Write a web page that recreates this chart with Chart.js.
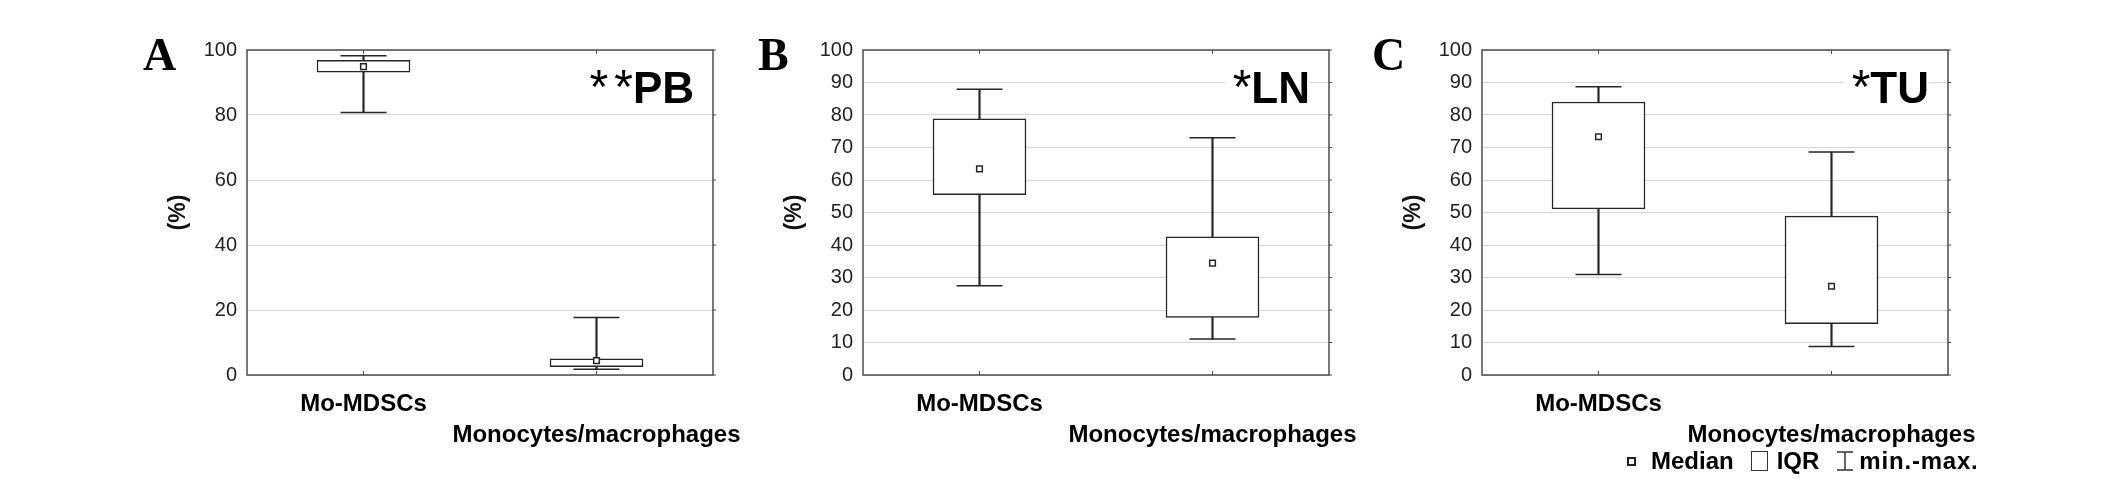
<!DOCTYPE html>
<html>
<head>
<meta charset="utf-8">
<script src="https://cdn.jsdelivr.net/npm/chart.js@4.4.1/dist/chart.umd.min.js"></script>
<style>
  html, body { margin:0; padding:0; background:#fff; width:2126px; height:501px; overflow:hidden; position:relative;
    font-family:'Liberation Sans', Arial, sans-serif; }
  canvas { position:absolute; }
  .letter { position:absolute; font-family:'Liberation Serif','Times New Roman',serif; font-weight:bold;
    font-size:46px; line-height:46px; color:#000; }
  .tag { position:absolute; font-weight:bold; font-size:44px; line-height:44px; background:#fff;
    padding-left:8px; color:#000; white-space:nowrap; z-index:2; }
  .tag .ast { font-weight:normal; font-size:48px; line-height:0; letter-spacing:6px; margin-right:-6px; }
  .legend { position:absolute; display:flex; align-items:center; font-weight:bold; font-size:24px;
    line-height:24px; color:#000; white-space:nowrap; z-index:2; }
  .lg-med { width:9px; height:9px; border:2px solid #222; box-sizing:border-box; margin-right:15px; }
  .lg-iqr { width:17px; height:20px; border:1.5px solid #333; box-sizing:border-box; margin-left:17px; margin-right:9px; }
  .lg-rng { margin-left:17px; margin-right:5px; display:block; }
  .lg-last { letter-spacing:0.8px; }
</style>
</head>
<body>
<script>
// ---------- data ----------
const categories = ['Mo-MDSCs', 'Monocytes/macrophages'];
const panelLetters = ['A', 'B', 'C'];
const tissues = ['PB', 'LN', 'TU'];
const significance = ['**', '*', '*'];
const yTickSteps = [20, 10, 10];
const yAxisTitle = '(%)';
const legendLabels = ['Median', 'IQR', 'min.-max.'];

// PB (peripheral blood)
const pbMin    = [80.8, 1.8];
const pbQ1     = [93.2, 2.6];
const pbMedian = [94.9, 4.4];
const pbQ3     = [96.8, 5.0];
const pbMax    = [98.2, 17.7];

// LN (lymph node)
const lnMin    = [27.5, 11.1];
const lnQ1     = [55.5, 17.7];
const lnMedian = [63.4, 34.4];
const lnQ3     = [78.8, 42.5];
const lnMax    = [87.9, 73.0];

// TU (tumour)
const tuMin    = [30.9, 8.8];
const tuQ1     = [51.1, 15.8];
const tuMedian = [73.3, 27.3];
const tuQ3     = [84.0, 48.9];
const tuMax    = [88.7, 68.6];

const panelData = [
  { min: pbMin, q1: pbQ1, med: pbMedian, q3: pbQ3, max: pbMax },
  { min: lnMin, q1: lnQ1, med: lnMedian, q3: lnQ3, max: lnMax },
  { min: tuMin, q1: tuQ1, med: tuMedian, q3: tuQ3, max: tuMax }
];

// ---------- layout ----------
const plotLefts = [247, 863, 1482];
const plotWidth = 466;
const plotTop = 50, plotBottom = 375;
const yAxisWidth = 100, padRight = 70, canvasTop = 10, canvasHeight = 440;
const letterOffsets = [104, 105, 110];
const FONT = "'Liberation Sans', Arial, sans-serif";
const INK = '#262626';
const FRAME = '#4d4d4d';

const framePlugin = {
  id: 'frame',
  afterDraw(chart) {
    const { ctx, chartArea: a, scales: { x, y } } = chart;
    ctx.save();
    ctx.strokeStyle = FRAME;
    ctx.lineWidth = 1.5;
    ctx.strokeRect(a.left, a.top, a.right - a.left, a.bottom - a.top);
    ctx.lineWidth = 1;
    ctx.beginPath();
    x.ticks.forEach((t, i) => {
      const px = x.getPixelForTick(i);
      ctx.moveTo(px, a.top); ctx.lineTo(px, a.top + 4);
      ctx.moveTo(px, a.bottom); ctx.lineTo(px, a.bottom - 4);
    });
    y.ticks.forEach((t, i) => {
      const py = y.getPixelForTick(i);
      ctx.moveTo(a.right, py); ctx.lineTo(a.right + 3, py);
    });
    ctx.stroke();
    ctx.restore();
  }
};

panelData.forEach((d, p) => {
  const left = plotLefts[p] - yAxisWidth;
  const cv = document.createElement('canvas');
  cv.width = yAxisWidth + plotWidth + padRight;
  cv.height = canvasHeight;
  cv.style.left = left + 'px';
  cv.style.top = canvasTop + 'px';
  document.body.appendChild(cv);

  new Chart(cv, {
    type: 'bar',
    data: {
      labels: [categories[0], ['', categories[1]]],
      datasets: [
        { type: 'bar', label: legendLabels[2], data: d.min.map((v, i) => [v, d.max[i]]),
          backgroundColor: INK, barThickness: 1.5, grouped: false, order: 4 },
        { type: 'bar', label: legendLabels[1], data: d.q1.map((v, i) => [v, d.q3[i]]),
          backgroundColor: '#fff', borderColor: INK, borderWidth: 1.5, borderSkipped: false,
          barThickness: 93, grouped: false, order: 3 },
        { type: 'line', label: 'max', data: d.max, showLine: false, pointStyle: 'line',
          pointRadius: 23, pointHoverRadius: 23, pointBorderWidth: 1.5, borderColor: INK, pointBorderColor: INK, order: 2 },
        { type: 'line', label: 'min', data: d.min, showLine: false, pointStyle: 'line',
          pointRadius: 23, pointHoverRadius: 23, pointBorderWidth: 1.5, borderColor: INK, pointBorderColor: INK, order: 1 },
        { type: 'line', label: legendLabels[0], data: d.med, showLine: false, pointStyle: 'rect',
          pointRadius: 4, pointHoverRadius: 4, pointBackgroundColor: '#fff', pointBorderColor: INK,
          borderColor: INK, pointBorderWidth: 1.5, order: 0 }
      ]
    },
    options: {
      responsive: false,
      devicePixelRatio: 1,
      animation: false,
      events: [],
      layout: { padding: { top: plotTop - canvasTop, right: padRight, left: 0, bottom: 0 } },
      plugins: { legend: { display: false }, tooltip: { enabled: false } },
      scales: {
        x: {
          offset: true,
          grid: { display: false, drawTicks: false },
          border: { display: false },
          ticks: { color: '#000', font: { family: FONT, size: 24, weight: 'bold', lineHeight: 1.29 },
                   padding: 13.5, maxRotation: 0, minRotation: 0, autoSkip: false },
          afterFit: s => { s.height = canvasTop + canvasHeight - plotBottom; }
        },
        y: {
          min: 0, max: 100,
          ticks: { stepSize: yTickSteps[p], color: '#222', font: { family: FONT, size: 20 }, padding: 10 },
          grid: { color: '#d6d6d6', lineWidth: 1, drawTicks: false },
          border: { display: false },
          title: { display: true, text: yAxisTitle, color: '#111',
                   font: { family: FONT, size: 23, weight: 'bold' }, padding: { top: 18, bottom: 0 } },
          afterFit: s => { s.width = yAxisWidth; }
        }
      }
    },
    plugins: [framePlugin]
  });

  // panel letter
  const L = document.createElement('div');
  L.className = 'letter';
  L.textContent = panelLetters[p];
  L.style.left = (plotLefts[p] - letterOffsets[p]) + 'px';
  L.style.top = '32px';
  document.body.appendChild(L);

  // tissue tag with significance
  const T = document.createElement('div');
  T.className = 'tag';
  const s = document.createElement('span');
  s.className = 'ast';
  s.textContent = significance[p];
  T.appendChild(s);
  T.appendChild(document.createTextNode(tissues[p]));
  T.style.right = (2126 - (plotLefts[p] + plotWidth - 19)) + 'px';
  T.style.top = '66px';
  document.body.appendChild(T);
});

// legend (panel C)
const lg = document.createElement('div');
lg.className = 'legend';
lg.style.left = (plotLefts[2] + 145) + 'px';
lg.style.top = '449px';
lg.innerHTML =
  '<span class="lg-med"></span><span>' + legendLabels[0] + '</span>' +
  '<span class="lg-iqr"></span><span>' + legendLabels[1] + '</span>' +
  '<svg class="lg-rng" width="18" height="20" viewBox="0 0 18 20"><path d="M1 1H17M9 1V19M1 19H17" stroke="#333" stroke-width="1.5" fill="none"/></svg>' +
  '<span class="lg-last">' + legendLabels[2] + '</span>';
document.body.appendChild(lg);
</script>
</body>
</html>
